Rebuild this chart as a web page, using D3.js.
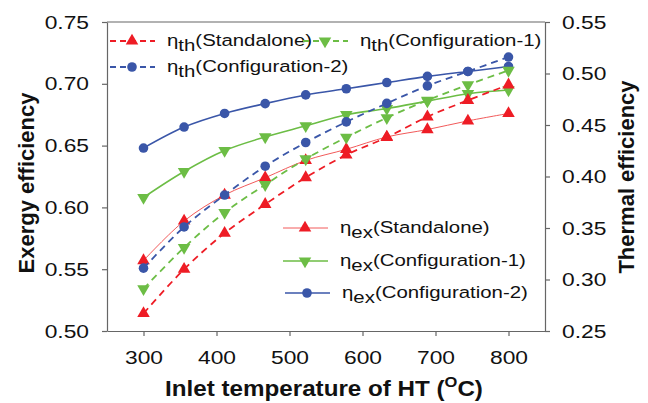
<!DOCTYPE html>
<html>
<head>
<meta charset="utf-8">
<script src="https://cdn.jsdelivr.net/npm/d3@7"></script>
<style>
  body { margin: 0; background: #fff; }
  text { font-family: "Liberation Sans", Arial, sans-serif; fill: #111; }
  .axis path, .axis line { stroke: #666; stroke-width: 1.2; }
</style>
</head>
<body>
<svg id="chart" width="648" height="403"></svg>
<script>
// inlet temperature of HT (deg C)
var temps = [300, 355.6, 411.1, 466.7, 522.2, 577.8, 633.3, 688.9, 744.4, 800];

// exergy efficiency (left axis)
var exStandalone = [0.557, 0.589, 0.610, 0.624, 0.638, 0.647, 0.657, 0.663, 0.670, 0.676];
var exConfig1 = [0.608, 0.629, 0.646, 0.657, 0.666, 0.675, 0.680, 0.686, 0.692, 0.695];
var exConfig2 = [0.648, 0.665, 0.676, 0.684, 0.691, 0.696, 0.701, 0.706, 0.710, 0.714];

// thermal efficiency (right axis)
var thStandalone = [0.267, 0.310, 0.345, 0.373, 0.399, 0.421, 0.438, 0.458, 0.474, 0.489];
var thConfig1 = [0.291, 0.331, 0.365, 0.392, 0.417, 0.438, 0.457, 0.474, 0.489, 0.503];
var thConfig2 = [0.311, 0.351, 0.382, 0.410, 0.433, 0.453, 0.471, 0.488, 0.502, 0.516];

var xTicks = [300, 400, 500, 600, 700, 800];
var leftTicks = [0.50, 0.55, 0.60, 0.65, 0.70, 0.75];
var rightTicks = [0.25, 0.30, 0.35, 0.40, 0.45, 0.50, 0.55];

var red = "#ee1c25", green = "#6cbd45", blue = "#3a56a8";
var sx = 1.2; // text in the reference is a bit wide

var svg = d3.select("#chart");

var x = d3.scaleLinear().domain([250, 850]).range([107, 545]);
var yL = d3.scaleLinear().domain([0.5, 0.75]).range([331, 22]);
var yR = d3.scaleLinear().domain([0.25, 0.55]).range([331, 22]);

// frame top
svg.append("line")
  .attr("x1", 107).attr("x2", 545).attr("y1", 22).attr("y2", 22)
  .attr("stroke", "#666").attr("stroke-width", 1.2);

function stretchTicks(g) {
  g.selectAll("text").each(function () {
    var t = d3.select(this);
    t.attr("x", (+t.attr("x") || 0) / sx).attr("transform", "scale(" + sx + ",1)");
  });
}

svg.append("g").attr("class", "axis")
  .attr("transform", "translate(0,331)")
  .call(d3.axisBottom(x).tickValues(xTicks).tickSize(5).tickSizeOuter(0).tickPadding(15))
  .call(g => g.selectAll("text").attr("font-size", 19).attr("fill", "#111"))
  .call(stretchTicks);

svg.append("g").attr("class", "axis")
  .attr("transform", "translate(107,0)")
  .call(d3.axisLeft(yL).tickValues(leftTicks).tickFormat(d3.format(".2f")).tickSize(5).tickSizeOuter(0).tickPadding(13))
  .call(g => g.selectAll("text").attr("font-size", 19).attr("fill", "#111"))
  .call(stretchTicks);

svg.append("g").attr("class", "axis")
  .attr("transform", "translate(545,0)")
  .call(d3.axisRight(yR).tickValues(rightTicks).tickFormat(d3.format(".2f")).tickSize(5).tickSizeOuter(0).tickPadding(12))
  .call(g => g.selectAll("text").attr("font-size", 19).attr("fill", "#111"))
  .call(stretchTicks);

// axis titles
svg.append("text")
  .attr("transform", "translate(34,183) rotate(-90)")
  .attr("text-anchor", "middle")
  .attr("font-size", 22).attr("font-weight", "bold")
  .text("Exergy efficiency");

svg.append("text")
  .attr("transform", "translate(634,177) rotate(-90)")
  .attr("text-anchor", "middle")
  .attr("font-size", 22).attr("font-weight", "bold")
  .text("Thermal efficiency");

var xt = svg.append("text")
  .attr("transform", "translate(324,396) scale(1.1,1)")
  .attr("text-anchor", "middle")
  .attr("font-size", 22).attr("font-weight", "bold");
xt.append("tspan").text("Inlet temperature of HT (");
xt.append("tspan").attr("font-size", 15).attr("dy", -9).text("O");
xt.append("tspan").attr("dy", 9).text("C)");

var series = [
  { vals: exStandalone, axis: yL, color: red, dash: null, width: 1, sym: "up", line: "#f25a5a" },
  { vals: exConfig1, axis: yL, color: green, dash: null, width: 1.6, sym: "down" },
  { vals: exConfig2, axis: yL, color: blue, dash: null, width: 1.6, sym: "circle" },
  { vals: thStandalone, axis: yR, color: red, dash: "7,5", width: 1.8, sym: "up" },
  { vals: thConfig1, axis: yR, color: green, dash: "7,5", width: 1.8, sym: "down" },
  { vals: thConfig2, axis: yR, color: blue, dash: "7,5", width: 1.8, sym: "circle" }
];

function drawMarker(g, kind, color, px, py) {
  if (kind === "circle") {
    g.append("circle").attr("cx", px).attr("cy", py).attr("r", 4.8).attr("fill", color);
  } else {
    var rot = kind === "down" ? 180 : 0;
    g.append("path")
      .attr("d", d3.symbol(d3.symbolTriangle, 68)())
      .attr("transform", "translate(" + px + "," + py + ") rotate(" + rot + ")")
      .attr("fill", color);
  }
}

series.forEach(s => {
  var pts = temps.map((t, i) => [x(t), s.axis(s.vals[i])]);
  var line = d3.line().curve(d3.curveCatmullRom);
  svg.append("path")
    .attr("d", line(pts))
    .attr("fill", "none")
    .attr("stroke", s.line || s.color)
    .attr("stroke-width", s.width)
    .attr("stroke-dasharray", s.dash);
  var g = svg.append("g");
  pts.forEach(p => drawMarker(g, s.sym, s.color, p[0], p[1]));
});

// legends
function legendItem(lx, ly, s, sub) {
  svg.append("line")
    .attr("x1", lx).attr("x2", lx + 45).attr("y1", ly).attr("y2", ly)
    .attr("stroke", s.line || s.color).attr("stroke-width", s.width)
    .attr("stroke-dasharray", s.dash ? "6,4" : null);
  drawMarker(svg.append("g"), s.sym, s.color, lx + 22, ly);
  var t = svg.append("text")
    .attr("transform", "translate(" + (lx + 57) + "," + (ly + 5) + ") scale(" + sx + ",1)")
    .attr("font-size", 17);
  t.append("tspan").text("\u03b7");
  t.append("tspan").attr("dy", 5).text(sub);
  t.append("tspan").attr("dy", -5).text(s.label);
}

series[0].label = "(Standalone)";
series[1].label = "(Configuration-1)";
series[2].label = "(Configuration-2)";
series[3].label = "(Standalone)";
series[4].label = "(Configuration-1)";
series[5].label = "(Configuration-2)";

legendItem(110, 41, series[3], "th");
legendItem(303, 41, series[4], "th");
legendItem(110, 67, series[5], "th");

legendItem(283, 228, series[0], "ex");
legendItem(283, 261, series[1], "ex");
legendItem(285, 293, series[2], "ex");
</script>
</body>
</html>
